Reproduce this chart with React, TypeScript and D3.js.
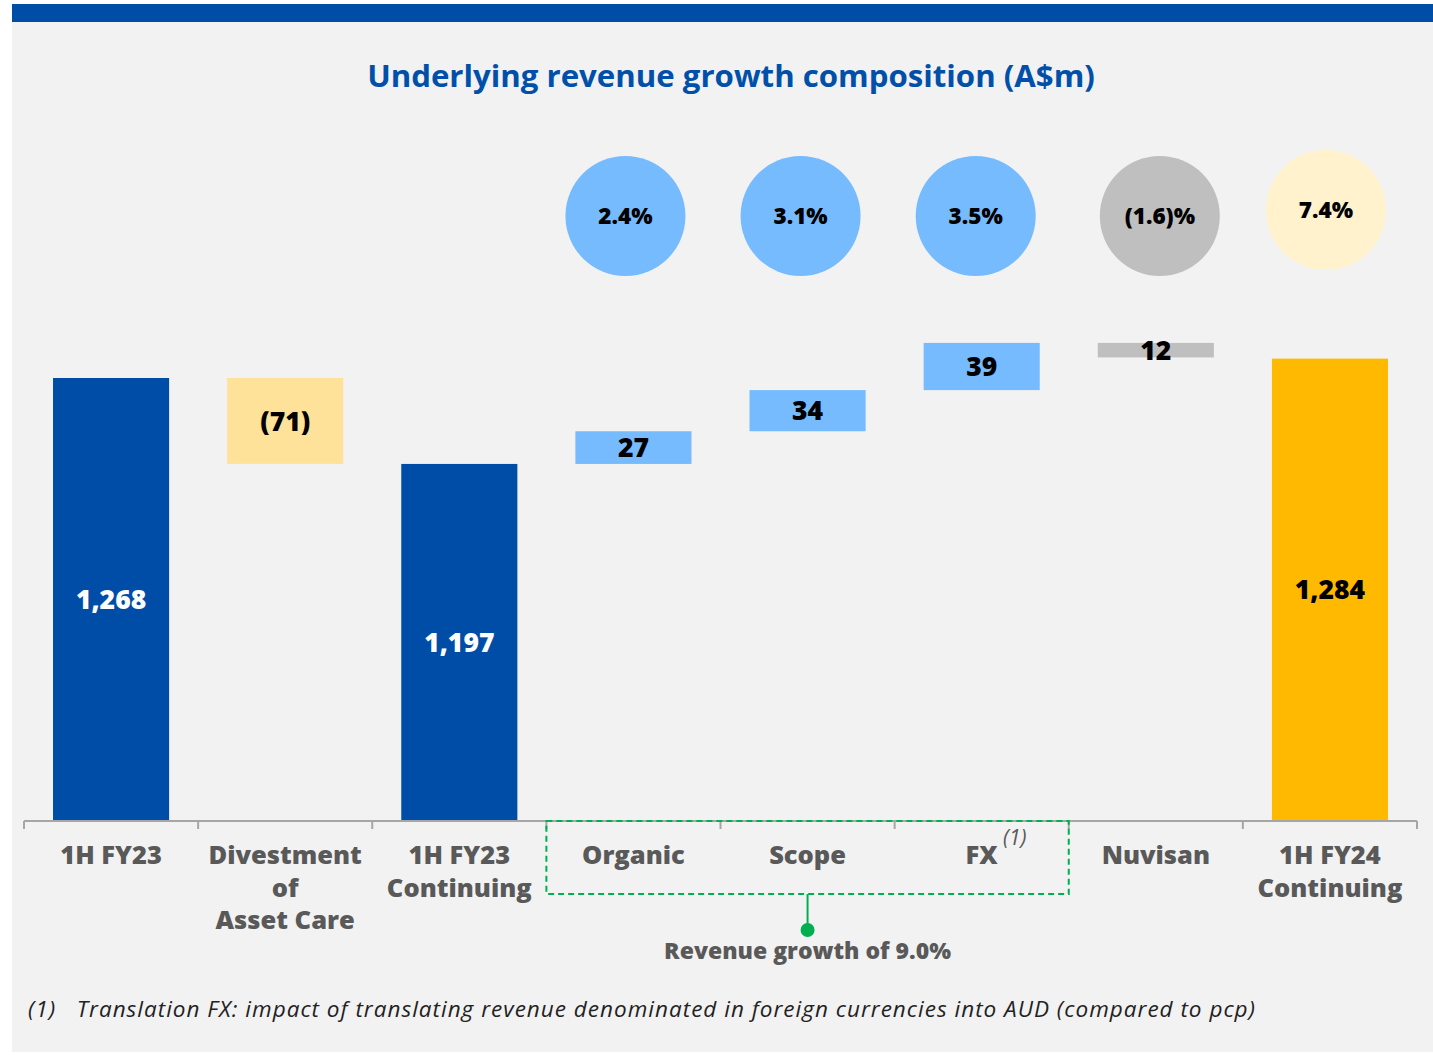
import React from "react";
import * as d3 from "d3";

const categories = ["1H FY23", "Divestment of Asset Care", "1H FY23 Continuing", "Organic", "Scope", "FX", "Nuvisan", "1H FY24 Continuing"];
const categoryLines = [["1H FY23"], ["Divestment", "of", "Asset Care"], ["1H FY23", "Continuing"], ["Organic"], ["Scope"], ["FX"], ["Nuvisan"], ["1H FY24", "Continuing"]];
const values = [1268, -71, 1197, 27, 34, 39, -12, 1284];
const kinds = ["total", "delta", "total", "delta", "delta", "delta", "delta", "total"];
const valueLabels = ["1,268", "(71)", "1,197", "27", "34", "39", "12", "1,284"];
const barColors = ["#004DA8", "#FFE29A", "#004DA8", "#75BBFD", "#75BBFD", "#75BBFD", "#BFBFBF", "#FFBA00"];
const labelColors = ["#FFFFFF", "#000000", "#FFFFFF", "#000000", "#000000", "#000000", "#000000", "#000000"];
const growthCategories = ["Organic", "Scope", "FX", "Nuvisan", "1H FY24 Continuing"];
const growthLabels = ["2.4%", "3.1%", "3.5%", "(1.6)%", "7.4%"];
const growthColors = ["#75BBFD", "#75BBFD", "#75BBFD", "#BFBFBF", "#FFF2CC"];
const titleText = "Underlying revenue growth composition (A$m)";
const groupNote = "Revenue growth of 9.0%";
const footnote = "(1)   Translation FX: impact of translating revenue denominated in foreign currencies into AUD (compared to pcp)";

export default function App() {
  const W = 1433, H = 1055;
  const x = d3.scaleBand<string>().domain(categories).range([24, 1417]).paddingInner(1 / 3).paddingOuter(1 / 6);
  const y = d3.scaleLinear().domain([902, 1268]).range([821, 378]);
  const baseY = 821;
  const step = x.step();
  const outer = x(categories[0])! - step * (1 / 6);

  let running = 0;
  const bars = values.map((v, i) => {
    let y0: number, y1: number;
    if (kinds[i] === "total") {
      y0 = y.domain()[0];
      y1 = v;
      running = v;
    } else {
      y0 = running;
      y1 = running + v;
      running = running + v;
    }
    const top = y(Math.max(y0, y1));
    const bottom = kinds[i] === "total" ? baseY : y(Math.min(y0, y1));
    return { i, cat: categories[i], top, bottom };
  });

  const circleDx = [-8, -7, -6, 4, -4];
  const circleDy = [0, 0, 0, 0, -6];

  const font = "'Open Sans', sans-serif";
  const ticks = d3.range(categories.length + 1).map((k) => outer + k * step);
  const boxL = ticks[3], boxR = ticks[6];
  const boxMid = (x("Scope")! + x.bandwidth() / 2);

  return (
    <svg width={W} height={H} style={{ position: "absolute", left: 0, top: 0 }}>
      <rect x={0} y={0} width={W} height={H} fill="#FFFFFF" />
      <rect x={12} y={22} width={W - 12} height={1030} fill="#F2F2F2" />
      <rect x={12} y={4} width={W - 12} height={18} fill="#004DA8" />
      <text x={731} y={87} textAnchor="middle" fontFamily={font} fontWeight={700} fontSize={31.2} fill="#0050AA">{titleText}</text>

      {bars.map((b) => (
        <rect key={b.cat} x={x(b.cat)!} y={b.top} width={x.bandwidth()} height={b.bottom - b.top} fill={barColors[b.i]} />
      ))}
      {bars.map((b) => (
        <text key={"l" + b.cat} x={x(b.cat)! + x.bandwidth() / 2} y={(b.top + b.bottom) / 2} dy="0.36em" textAnchor="middle" fontFamily={font} fontWeight={800} fontSize={26.5} fill={labelColors[b.i]}>{valueLabels[b.i]}</text>
      ))}

      {growthCategories.map((c, k) => {
        const cx = x(c)! + x.bandwidth() / 2 + circleDx[k];
        const cy = 216 + circleDy[k];
        return (
          <g key={"c" + c}>
            <circle cx={cx} cy={cy} r={60} fill={growthColors[k]} />
            <text x={cx} y={cy} dy="0.36em" textAnchor="middle" fontFamily={font} fontWeight={800} fontSize={22.5} fill="#000">{growthLabels[k]}</text>
          </g>
        );
      })}

      <line x1={ticks[0]} x2={ticks[ticks.length - 1]} y1={baseY} y2={baseY} stroke="#A6A6A6" strokeWidth={2} />
      {ticks.map((t, k) => (
        <line key={"t" + k} x1={t} x2={t} y1={baseY} y2={baseY + 8} stroke="#A6A6A6" strokeWidth={2} />
      ))}

      {categories.map((c, i) => (
        <text key={"x" + c} textAnchor="middle" fontFamily={font} fontWeight={800} fontSize={25.5} fill="#595959">
          {categoryLines[i].map((ln, j) => (
            <tspan key={j} x={x(c)! + x.bandwidth() / 2} y={864 + j * 32.5}>{ln}</tspan>
          ))}
        </text>
      ))}
      <text x={x("FX")! + x.bandwidth() / 2 + 33} y={845} textAnchor="middle" fontFamily={font} fontStyle="italic" fontSize={21} fill="#595959">(1)</text>

      <rect x={boxL} y={baseY} width={boxR - boxL} height={73} fill="none" stroke="#00B050" strokeWidth={2} strokeDasharray="6,4" />
      <line x1={boxMid} x2={boxMid} y1={baseY + 73} y2={930} stroke="#00B050" strokeWidth={2} />
      <circle cx={boxMid} cy={930} r={7} fill="#00B050" />
      <text x={boxMid} y={959} textAnchor="middle" fontFamily={font} fontWeight={800} fontSize={23} fill="#595959">{groupNote}</text>

      <text x={28} y={1017} fontFamily={font} fontStyle="italic" fontSize={22.5} fill="#222" textLength={1227} lengthAdjust="spacing" style={{ whiteSpace: "pre" }} xmlSpace="preserve">{footnote}</text>
    </svg>
  );
}
